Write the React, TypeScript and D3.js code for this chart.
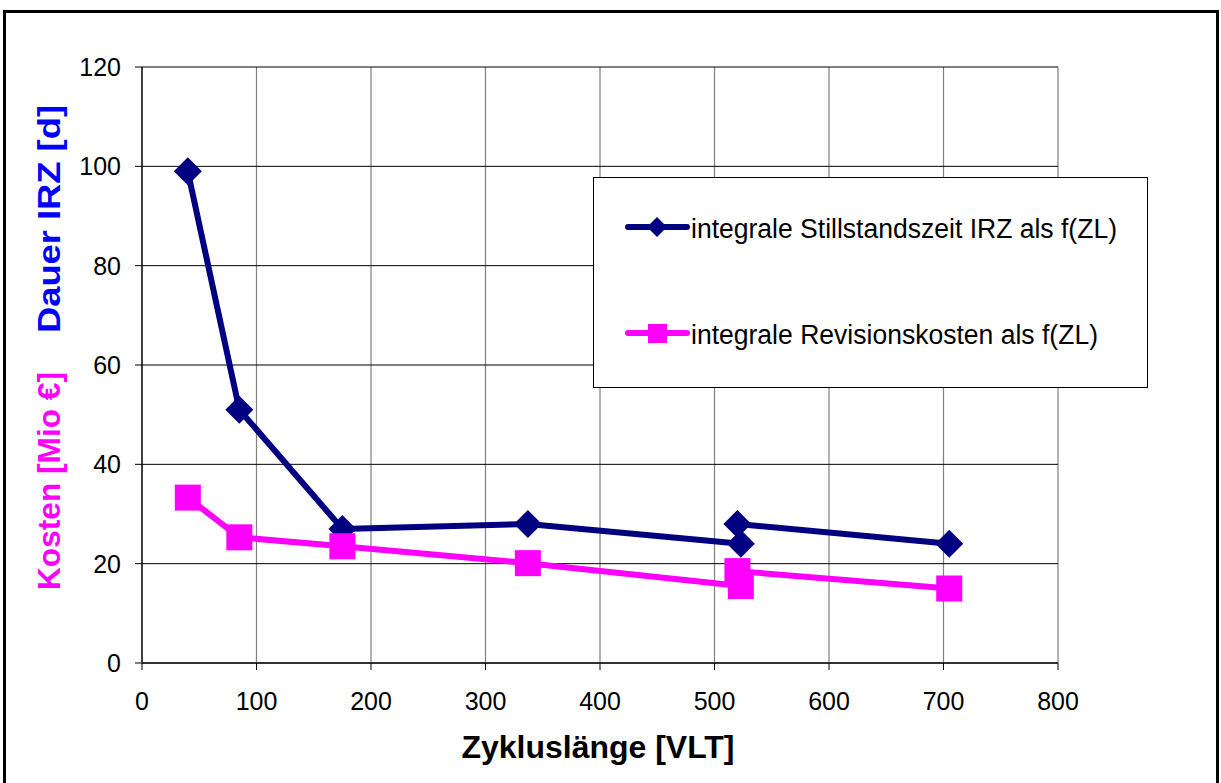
import React from "react";
import * as d3 from "d3";

const xTicks = [0, 100, 200, 300, 400, 500, 600, 700, 800];
const yTicks = [0, 20, 40, 60, 80, 100, 120];

const zlX = [40, 85, 175, 337, 523, 520, 705];
const dauerIRZ = [99, 51, 27, 28, 24, 28, 24];
const kosten = [33.3, 25.3, 23.5, 20.1, 15.5, 18.5, 15];

const seriesNames = [
  "integrale Stillstandszeit IRZ als f(ZL)",
  "integrale Revisionskosten als f(ZL)",
];
const navy = "#000080";
const magenta = "#FF00FF";

export default function App() {
  const W = 1221, H = 783;
  const left = 142, right = 1058, top = 67, bottom = 663;
  const x = d3.scaleLinear().domain([0, 800]).range([left, right]);
  const y = d3.scaleLinear().domain([0, 120]).range([bottom, top]);
  const line = d3.line<[number, number]>().x(d => x(d[0])).y(d => y(d[1]));
  const blue: [number, number][] = zlX.map((v, i) => [v, dauerIRZ[i]]);
  const pink: [number, number][] = zlX.map((v, i) => [v, kosten[i]]);
  const font = "'Liberation Sans', Arial, sans-serif";
  const diamond = (cx: number, cy: number, r: number) =>
    `M${cx},${cy - r}L${cx + r},${cy}L${cx},${cy + r}L${cx - r},${cy}Z`;
  return (
    <div style={{ position: "absolute", left: 0, top: 0 }}>
      <svg width={W} height={H} style={{ display: "block", background: "#fff" }} fontFamily={font}>
        <rect x={4.5} y={11.5} width={1213} height={790} fill="#fff" stroke="#000" strokeWidth={3} />
        {/* grid */}
        {xTicks.slice(1).map(t => (
          <line key={"gx" + t} x1={x(t)} x2={x(t)} y1={top} y2={bottom} stroke="#808080" strokeWidth={1.2} />
        ))}
        {yTicks.slice(1).map(t => (
          <line key={"gy" + t} x1={left} x2={right} y1={y(t)} y2={y(t)} stroke="#000" strokeWidth={1} />
        ))}
        {/* axes */}
        <line x1={left} x2={left} y1={top} y2={bottom} stroke="#000" strokeWidth={1.5} />
        <line x1={left} x2={right} y1={bottom} y2={bottom} stroke="#333" strokeWidth={2} />
        {yTicks.map(t => (
          <g key={"yt" + t}>
            <line x1={left - 7} x2={left} y1={y(t)} y2={y(t)} stroke="#000" />
            <text x={121} y={y(t)} dy="0.36em" textAnchor="end" fontSize={25}>{t}</text>
          </g>
        ))}
        {xTicks.map(t => (
          <g key={"xt" + t}>
            <line x1={x(t)} x2={x(t)} y1={bottom} y2={bottom + 7} stroke="#000" />
            <text x={x(t)} y={710} textAnchor="middle" fontSize={25}>{t}</text>
          </g>
        ))}
        {/* axis titles */}
        <text x={598} y={758} textAnchor="middle" fontSize={32} fontWeight="bold"
          textLength={273} lengthAdjust="spacingAndGlyphs">Zykluslänge [VLT]</text>
        <text transform="translate(60,590) rotate(-90)" fontSize={31} fontWeight="bold" fill={magenta}
          textLength={218} lengthAdjust="spacingAndGlyphs">Kosten [Mio €]</text>
        <text transform="translate(60,333) rotate(-90)" fontSize={31} fontWeight="bold" fill="#0000FF"
          textLength={228} lengthAdjust="spacingAndGlyphs">Dauer IRZ [d]</text>
        {/* series */}
        <path d={line(blue) || ""} fill="none" stroke={navy} strokeWidth={6} strokeLinejoin="round" />
        {blue.map((d, i) => (
          <path key={"bd" + i} d={diamond(x(d[0]), y(d[1]), 14)} fill={navy} />
        ))}
        <path d={line(pink) || ""} fill="none" stroke={magenta} strokeWidth={6} strokeLinejoin="round" />
        {pink.map((d, i) => (
          <rect key={"ps" + i} x={x(d[0]) - 13} y={y(d[1]) - 13} width={26} height={26} fill={magenta} />
        ))}
        {/* legend */}
        <rect x={593.5} y={177.5} width={554} height={210} fill="#fff" stroke="#000" strokeWidth={1} />
        <line x1={628} x2={687} y1={227} y2={227} stroke={navy} strokeWidth={6} strokeLinecap="round" />
        <path d={diamond(657, 227, 10)} fill={navy} />
        <text x={691} y={238} fontSize={27} textLength={426} lengthAdjust="spacingAndGlyphs">{seriesNames[0]}</text>
        <line x1={628} x2={687} y1={333} y2={333} stroke={magenta} strokeWidth={6} strokeLinecap="round" />
        <rect x={648} y={324} width={19} height={19} fill={magenta} />
        <text x={691} y={344} fontSize={27} textLength={407} lengthAdjust="spacingAndGlyphs">{seriesNames[1]}</text>
      </svg>
    </div>
  );
}
